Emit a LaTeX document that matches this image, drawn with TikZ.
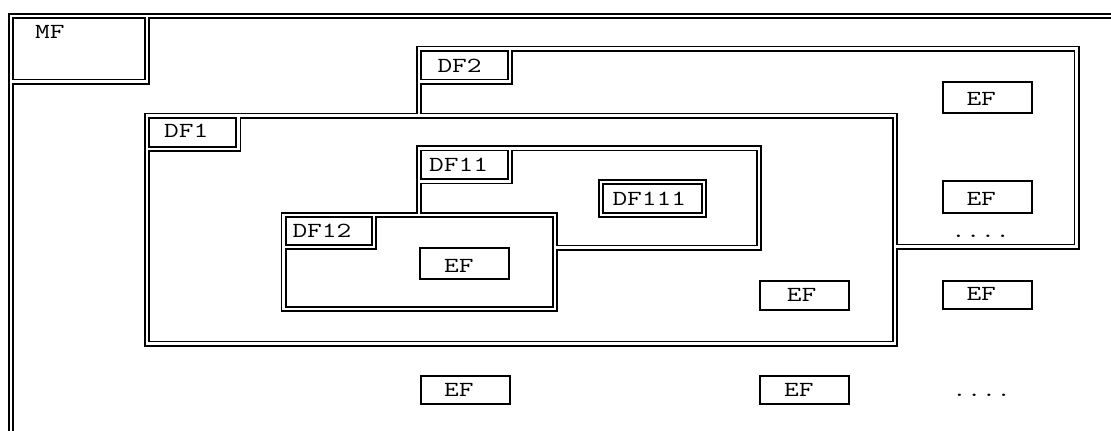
\documentclass[tikz,border=0pt]{standalone}
\usepackage{graphicx}
\usetikzlibrary{calc}
\newcommand\mytt[1]{\scalebox{1.33}[1]{#1}}
\newcommand\myframes{%
  % main frame MF
  (1130,16) -- (11,16) -- (11,445)
  (147,16) -- (147,81.5) -- (11,81.5)
  % DF2
  (419,115.5) -- (419,48.5) -- (1076.5,48.5) -- (1076.5,246.5) -- (895.2,246.5)
  (510,48.5) -- (510,81.5) -- (419,81.5)
  % DF1
  (146.7,115.5) -- (895.2,115.5) -- (895.2,343.5) -- (146.7,343.5) -- cycle
  (238.3,115.5) -- (238.3,148.7) -- (146.7,148.7)
  % DF11
  (419,215) -- (419,148.3) -- (758.8,148.3) -- (758.8,247.5) -- (555.2,247.5)
  (510,148.3) -- (510,181.3) -- (419,181.3)
  % DF12
  (283.5,215) -- (555.2,215) -- (555.2,308.8) -- (283.5,308.8) -- cycle
  (373.8,215) -- (373.8,247.2) -- (283.5,247.2)
  % DF111
  (601.2,181.8) -- (704.2,181.8) -- (704.2,215.2) -- (601.2,215.2) -- cycle
}
\tikzset{
  lab/.style={inner sep=0pt, anchor=base west,
    font=\fontsize{21.5pt}{21.5pt}\fontfamily{lmtt}\selectfont},
  efbox/.style={draw, line width=2pt, inner sep=0pt, anchor=north west,
    minimum width=89pt},
  dblout/.style={line width=6pt, black, line cap=square, line join=miter},
  dblin/.style={line width=2.4pt, white, line cap=square, line join=miter},
}
\begin{document}
\begin{tikzpicture}[x=1pt,y=-1pt]
\useasboundingbox (0,0) rectangle (1111,431);
\clip (0,0) rectangle (1111,431);
\fill[white] (0,0) rectangle (1111,431);
% double-line folders
\draw[dblout] \myframes;
\draw[dblin] \myframes;
% folder labels
\node[lab] (mf)    at (35,38.3)    {\mytt{MF}};
\node[lab] (df2)   at (437.3,72.3) {\mytt{DF2}};
\node[lab] (df1)   at (164,137.3)  {\mytt{DF1}};
\node[lab] (df11)  at (429,171.7)  {\mytt{DF11}};
\node[lab] (df111) at (612.3,205)  {\mytt{DF111}};
\node[lab] (df12)  at (292.3,237.7){\mytt{DF12}};
% EF boxes
\node[efbox, minimum height=30.7pt] (b1) at (941.7,81)  {};
\node[efbox, minimum height=32pt]   (b2) at (941.7,180.3) {};
\node[efbox, minimum height=28pt]   (b3) at (941.7,280) {};
\node[efbox, minimum height=31.3pt] (b4) at (419.3,246.7) {};
\node[efbox, minimum height=29pt]   (b5) at (759.3,280) {};
\node[efbox, minimum height=27.7pt] (b6) at (420,375.3) {};
\node[efbox, minimum height=27.7pt] (b7) at (759.3,375.3) {};
\node[lab] (t1) at (966.3,105)   {\mytt{EF}};
\node[lab] (t2) at (966.3,205)   {\mytt{EF}};
\node[lab] (t3) at (966.3,300.7) {\mytt{EF}};
\node[lab] (t4) at (444,272.7)   {\mytt{EF}};
\node[lab] (t5) at (786.7,301.7) {\mytt{EF}};
\node[lab] (t6) at (444,396)     {\mytt{EF}};
\node[lab] (t7) at (784,396)     {\mytt{EF}};
% ellipses
\node[lab] (d1) at (951,237) {\mytt{....}};
\node[lab] (d2) at (952,396) {\mytt{....}};
\end{tikzpicture}
\end{document}
